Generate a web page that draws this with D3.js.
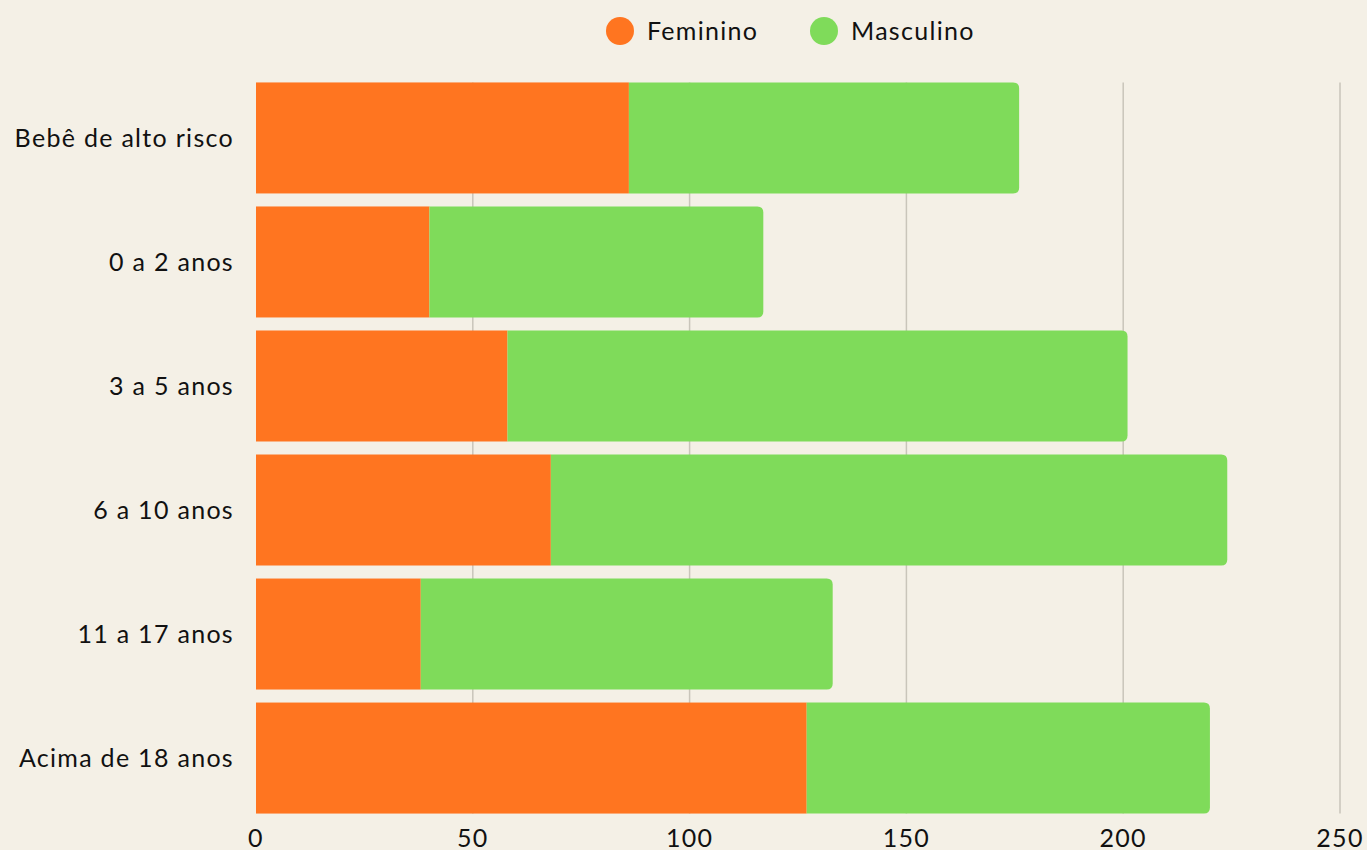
<!DOCTYPE html>
<html>
<head>
<meta charset="utf-8">
<script src="https://cdn.jsdelivr.net/npm/d3@7"></script>
<style>
  html, body { margin: 0; padding: 0; background: #F4F0E6; }
  svg { display: block; font-family: "Lato", "Noto Sans", sans-serif; letter-spacing: 1.3px; }
</style>
</head>
<body>
<svg id="chart"></svg>
<script>
// Chart size matches the browser window
const width = 1367;
const height = 850;

// Data
const categories = ["Bebê de alto risco", "0 a 2 anos", "3 a 5 anos", "6 a 10 anos", "11 a 17 anos", "Acima de 18 anos"];
const feminino = [86, 40, 58, 68, 38, 127];
const masculino = [90, 77, 143, 156, 95, 93];
const seriesNames = ["Feminino", "Masculino"];
const seriesColors = ["#FF7520", "#7FDB5A"];
const xTicks = [0, 50, 100, 150, 200, 250];

const svg = d3.select("#chart")
    .attr("width", width)
    .attr("height", height);

svg.append("rect")
    .attr("width", width)
    .attr("height", height)
    .attr("fill", "#F4F0E6");

const x = d3.scaleLinear().domain([0, 250]).range([256, 1340]);
const y = d3.scaleBand().domain(categories).range([76, 820]).paddingInner(0.105).paddingOuter(0.052);

// vertical gridlines
svg.selectAll("line.grid")
    .data(xTicks.slice(1))
    .enter()
    .append("line")
    .attr("class", "grid")
    .attr("x1", d => x(d))
    .attr("x2", d => x(d))
    .attr("y1", y(categories[0]))
    .attr("y2", y(categories[categories.length - 1]) + y.bandwidth())
    .attr("stroke", "#C9C5BA")
    .attr("stroke-width", 1.5);

// rows with both parts of each bar
const rows = categories.map((c, i) => ({ cat: c, f: feminino[i], m: masculino[i] }));

svg.selectAll("rect.fem")
    .data(rows)
    .enter()
    .append("rect")
    .attr("class", "fem")
    .attr("x", x(0))
    .attr("y", d => y(d.cat))
    .attr("width", d => x(d.f) - x(0))
    .attr("height", y.bandwidth())
    .attr("fill", seriesColors[0]);

// green part, rounded on the right end only
const r = 6;
function rightRounded(x0, x1, y0, h) {
    return `M${x0},${y0} H${x1 - r} Q${x1},${y0} ${x1},${y0 + r} V${y0 + h - r} Q${x1},${y0 + h} ${x1 - r},${y0 + h} H${x0} Z`;
}

svg.selectAll("path.masc")
    .data(rows)
    .enter()
    .append("path")
    .attr("class", "masc")
    .attr("d", d => rightRounded(x(d.f), x(d.f + d.m), y(d.cat), y.bandwidth()))
    .attr("fill", seriesColors[1]);

// category labels
svg.selectAll("text.cat")
    .data(categories)
    .enter()
    .append("text")
    .attr("class", "cat")
    .attr("x", 234)
    .attr("y", d => y(d) + y.bandwidth() / 2)
    .attr("dy", "0.35em")
    .attr("text-anchor", "end")
    .attr("font-size", 25)
    .attr("fill", "#111")
    .text(d => d);

// x axis tick labels
svg.selectAll("text.tick")
    .data(xTicks)
    .enter()
    .append("text")
    .attr("class", "tick")
    .attr("x", d => x(d))
    .attr("y", 838)
    .attr("dy", "0.35em")
    .attr("text-anchor", "middle")
    .attr("font-size", 25)
    .attr("fill", "#111")
    .text(d => d);

// legend
const legendX = [620, 824];
const legend = svg.selectAll("g.legend")
    .data(seriesNames)
    .enter()
    .append("g")
    .attr("class", "legend")
    .attr("transform", (d, i) => `translate(${legendX[i]},31)`);

legend.append("circle")
    .attr("r", 14)
    .attr("fill", (d, i) => seriesColors[i]);

legend.append("text")
    .attr("x", 27)
    .attr("dy", "0.35em")
    .attr("font-size", 25)
    .attr("fill", "#111")
    .text(d => d);
</script>
</body>
</html>
